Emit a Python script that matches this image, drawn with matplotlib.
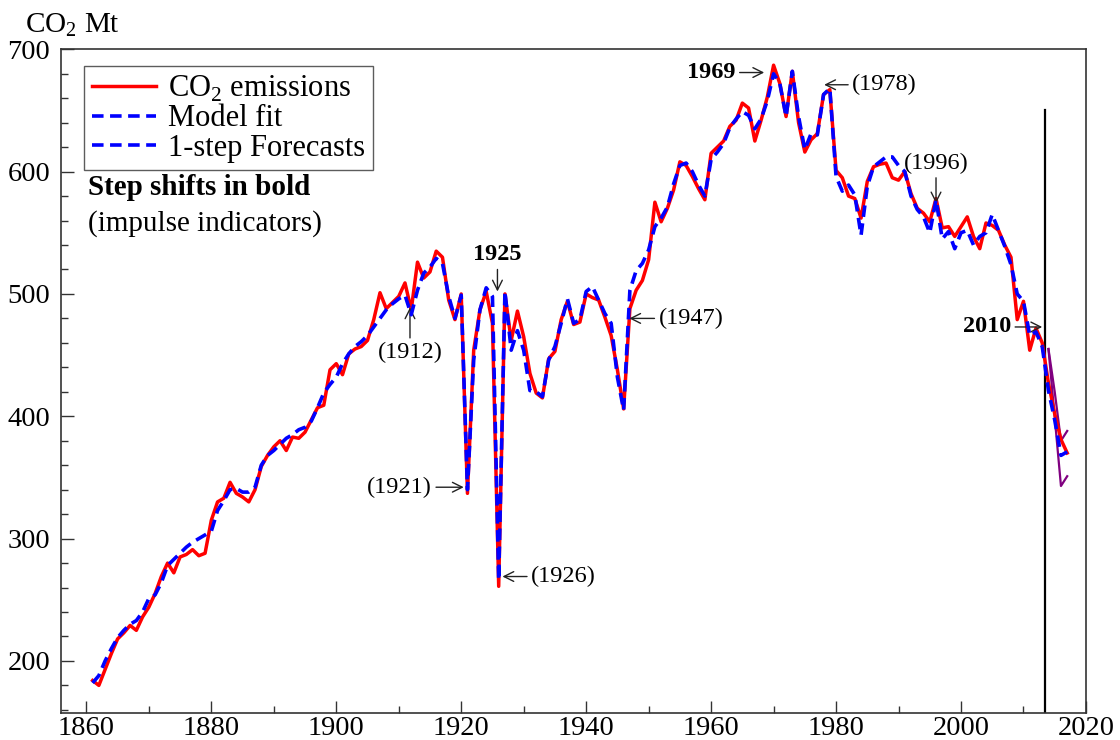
import numpy as np
import matplotlib.pyplot as plt

plt.rcParams['font.family'] = ['Liberation Serif', 'DejaVu Serif']
plt.rcParams['mathtext.fontset'] = 'custom'
plt.rcParams['mathtext.rm'] = 'Liberation Serif'
plt.rcParams['mathtext.bf'] = 'Liberation Serif:bold'

# UK CO2 emissions (Mt), 1861-2017
years = np.arange(1861, 2018)
emissions = [
    184, 180, 193, 206, 218, 223, 229, 225, 236, 244,
    255, 269, 280, 272, 285, 287, 291, 286, 288, 315,
    330, 333, 346, 337, 334, 330, 340, 359, 368, 375,
    380, 372, 383, 382, 387, 397, 407, 409, 438, 443,
    434, 451, 455, 457, 462, 479, 501, 488, 493, 498,
    509, 487, 526, 513, 518, 535, 530, 495, 479, 500,
    337, 454, 487, 502, 476, 261, 500, 462, 486, 465,
    435, 419, 415, 447, 453, 479, 494, 475, 477, 500,
    497, 495, 481, 466, 438, 406, 488, 503, 511, 528,
    575, 559, 570, 585, 608, 605, 596, 586, 577, 615,
    620, 625, 637, 642, 656, 652, 625, 642, 661, 687,
    672, 645, 682, 640, 616, 626, 631, 663, 667, 601,
    595, 580, 578, 562, 592, 604, 606, 607, 595, 593,
    600, 582, 570, 566, 559, 578, 554, 555, 547, 555,
    563, 547, 537, 558, 556, 552, 540, 530, 479, 494,
    454, 472, 460, 427, 402, 381, 370,
]

# model fit 1861-2013
fit_years = np.arange(1861, 2014)
model_fit = [
    182, 188, 200, 210, 219, 225, 230, 233, 240, 251,
    254, 264, 278, 283, 288, 293, 297, 300, 303, 306,
    323, 331, 340, 341, 338, 338, 342, 360, 368, 372,
    377, 382, 385, 389, 391, 396, 407, 419, 426, 432,
    443, 451, 457, 461, 466, 473, 480, 487, 492, 496,
    499, 483, 503, 517, 522, 529, 525, 498, 480, 499,
    340, 446, 487, 505, 498, 266, 502, 454, 470, 454,
    421, 420, 416, 446, 457, 476, 496, 476, 479, 502,
    506, 495, 484, 476, 432, 405, 503, 519, 525, 536,
    555, 562, 571, 590, 605, 607, 600, 589, 580, 610,
    616, 623, 636, 643, 649, 646, 635, 643, 658, 680,
    672, 645, 682, 645, 618, 631, 630, 663, 668, 596,
    584, 589, 581, 548, 588, 604, 608, 612, 612, 605,
    600, 580, 569, 563, 550, 577, 545, 551, 537, 550,
    552, 540, 547, 550, 565, 552, 539, 524, 500, 494,
    466, 469, 457,
]

# 1-step forecasts and error bands 2014-2017
fc_years = np.arange(2014, 2018)
forecasts = [421, 397, 368, 371]
band_upper = [455, 420, 380, 388]
band_lower = [455, 399, 343, 351]

fig = plt.figure(figsize=(11.2, 7.4), dpi=100)
ax = fig.add_axes([0.0548, 0.0366, 0.9148, 0.8968])

dash = (0, (3.2, 1.8))
ax.plot(years, emissions, color='red', lw=2.5, label='CO$_2$ emissions', zorder=3)
ax.plot(fit_years, model_fit, color='blue', lw=2.6, ls=dash, label='Model fit', zorder=4)
ax.plot(np.r_[fit_years[-1], fc_years], np.r_[model_fit[-1], forecasts],
        color='blue', lw=2.6, ls=dash, label='1-step Forecasts', zorder=4)
ax.plot(fc_years, band_upper, color='purple', lw=1.6, zorder=2)
ax.plot(fc_years, band_lower, color='purple', lw=1.6, zorder=2)
ax.plot([2013.5, 2013.5], [150, 650], color='black', lw=1.6, zorder=2)

ax.set_xlim(1856, 2020)
ax.set_ylim(157.5, 700)
ax.set_xticks(np.arange(1860, 2021, 20))
ax.set_xticks(np.arange(1870, 2020, 20), minor=True)
ax.set_yticks(np.arange(200, 701, 100))
ax.set_yticks(np.arange(160, 700, 20), minor=True)
ax.tick_params(which='both', direction='in', top=False, right=False,
               labelsize=20.5, width=1.0, color='#333333')
ax.tick_params(which='major', length=9)
ax.tick_params(which='minor', length=5)
ax.tick_params(axis='x', pad=2)
ax.tick_params(axis='y', pad=8)
for s in ax.spines.values():
    s.set_linewidth(1.2)
    s.set_color('#333333')

leg = ax.legend(loc='upper left', bbox_to_anchor=(0.0225, 0.975), fontsize=22,
                frameon=True, fancybox=False, handlelength=2.1,
                handletextpad=0.4, labelspacing=0.02, borderpad=0.25,
                borderaxespad=0)
leg.get_frame().set_edgecolor('#333333')
leg.get_frame().set_linewidth(1.0)

ax.text(1860.2, 581, 'Step shifts in bold', fontsize=21, fontweight='bold', va='baseline')
ax.text(1860.2, 552, '(impulse indicators)', fontsize=21, va='baseline')
fig.text(0.022, 0.966, 'CO$_2$ Mt', fontsize=21, va='center')

arw = dict(arrowstyle='->', lw=1.0, color='#222222', shrinkA=1, shrinkB=0)
ax.annotate('(1912)', xy=(1911.8, 489), xytext=(1911.8, 452), fontsize=17.5,
            ha='center', va='center', arrowprops=arw)
ax.annotate('1925', xy=(1925.8, 502), xytext=(1925.8, 532), fontsize=17.5,
            fontweight='bold', ha='center', va='center', arrowprops=arw)
ax.annotate('(1921)', xy=(1920.4, 342), xytext=(1915.3, 342), fontsize=17.5,
            ha='right', va='center', arrowprops=arw)
ax.annotate('(1926)', xy=(1926.6, 269), xytext=(1931.2, 269), fontsize=17.5,
            ha='left', va='center', arrowprops=arw)
ax.annotate('(1947)', xy=(1946.9, 480), xytext=(1951.6, 480), fontsize=17.5,
            ha='left', va='center', arrowprops=arw)
ax.annotate('1969', xy=(1968.5, 681), xytext=(1963.9, 681), fontsize=17.5,
            fontweight='bold', ha='right', va='center', arrowprops=arw)
ax.annotate('(1978)', xy=(1978.1, 671), xytext=(1982.6, 671), fontsize=17.5,
            ha='left', va='center', arrowprops=arw)
ax.annotate('(1996)', xy=(1996.0, 574), xytext=(1996.0, 607), fontsize=17.5,
            ha='center', va='center', arrowprops=arw)
ax.annotate('2010', xy=(2013.0, 473), xytext=(2008.0, 473), fontsize=17.5,
            fontweight='bold', ha='right', va='center', arrowprops=arw)

fig.savefig('out.png', dpi=100)
